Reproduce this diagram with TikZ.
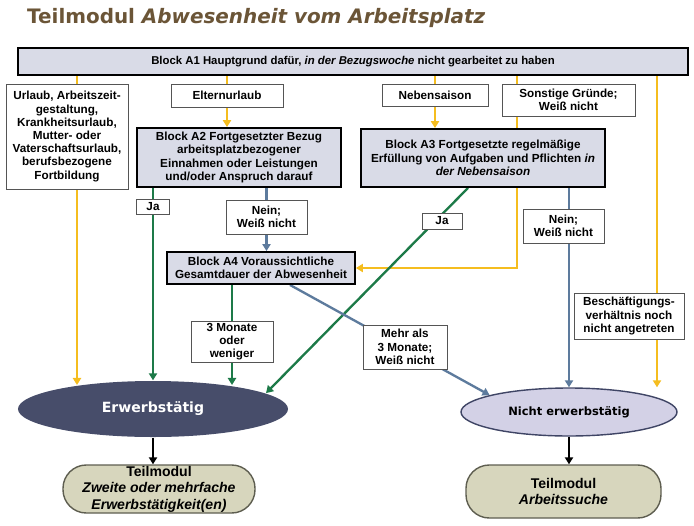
\documentclass[tikz,border=0pt]{standalone}
\usepackage{fontspec}
\setmainfont{Liberation Sans}
\newfontfamily\titlefont{DejaVu Sans}
\usetikzlibrary{positioning, arrows.meta, shapes.geometric, backgrounds, calc}

\definecolor{titlebrown}{HTML}{6B5537}
\definecolor{blockfill}{HTML}{D9DBE7}
\definecolor{yel}{HTML}{F5BD1F}
\definecolor{grn}{HTML}{1D7A48}
\definecolor{blu}{HTML}{5D7B9D}
\definecolor{darkoval}{HTML}{474D6A}
\definecolor{lightoval}{HTML}{D3D1E6}
\definecolor{ovalline}{HTML}{3F4565}
\definecolor{termfill}{HTML}{D7D6BD}
\definecolor{termline}{HTML}{5E5E50}
\definecolor{boxline}{HTML}{555555}

\tikzset{
  block/.style={draw=black, line width=1.6pt, fill=blockfill, align=center, inner sep=0pt,
    font=\bfseries\fontsize{10}{11.5}\selectfont},
  answer/.style={draw=boxline, line width=0.8pt, fill=white, align=center, inner sep=0pt,
    font=\bfseries\fontsize{10}{11.3}\selectfont},
  oval/.style={ellipse, inner sep=0pt, line width=1.2pt},
  terminal/.style={draw=termline, line width=1.2pt, fill=termfill, rounded corners=0.7cm,
    align=center, inner sep=0pt, font=\bfseries\fontsize{12}{14.2}\selectfont},
  arr/.style={-{Triangle[width=7pt,length=6pt]}},
  yline/.style={draw=yel, line width=2pt},
  gline/.style={draw=grn, line width=2pt},
  bline/.style={draw=blu, line width=2pt},
  kline/.style={draw=black, line width=2.2pt}
}

\begin{document}
\begin{tikzpicture}[x=0.03cm, y=-0.03cm]
  \useasboundingbox (0,0) rectangle (694,525);

  % title
  \node[anchor=base west, text=titlebrown, inner sep=0pt,
    font=\titlefont\bfseries\fontsize{17}{20}\selectfont] (title) at (27,23)
    {Teilmodul \textit{Abwesenheit vom Arbeitsplatz}};

  % top block and first answers
  \node[block, minimum width=20.1cm, minimum height=0.81cm, font=\bfseries\fontsize{9.7}{11}\selectfont] (a1) at (353,61.5)
    {Block A1 Hauptgrund dafür, \textit{in der Bezugswoche} nicht gearbeitet zu haben};
  \node[answer, minimum width=3.66cm, minimum height=3.15cm] (urlaub) at (67,136.5)
    {Urlaub, Arbeitszeit-\\gestaltung,\\Krankheitsurlaub,\\Mutter- oder\\Vaterschaftsurlaub,\\berufsbezogene\\Fortbildung};
  \node[answer, minimum width=3.36cm, minimum height=0.69cm] (eltern) at (227,95.5) {Elternurlaub};
  \node[answer, minimum width=3.18cm, minimum height=0.66cm] (neben) at (435,95) {Nebensaison};
  \node[answer, minimum width=3.99cm, minimum height=0.96cm] (sonst) at (568.5,100) {Sonstige Gründe;\\Weiß nicht};

  % blocks A2 and A3
  \node[block, minimum width=6.12cm, minimum height=1.77cm] (a2) at (239,157.5)
    {Block A2 Fortgesetzter Bezug\\arbeitsplatzbezogener\\Einnahmen oder Leistungen\\und/oder Anspruch darauf};
  \node[block, minimum width=7.32cm, minimum height=1.74cm] (a3) at (483,158)
    {Block A3 Fortgesetzte regelmäßige\\Erfüllung von Aufgaben und Pflichten \textit{in}\\\textit{der Nebensaison}};

  % answers below A2 and A3
  \node[answer, minimum width=1.0cm, minimum height=0.45cm] (ja1) at (153,207) {Ja};
  \node[answer, minimum width=2.43cm, minimum height=1.02cm] (nein1) at (266.5,217) {Nein;\\Weiß nicht};
  \node[answer, minimum width=1.2cm, minimum height=0.48cm] (ja2) at (442,221) {Ja};
  \node[answer, minimum width=2.43cm, minimum height=1.02cm] (nein2) at (563.5,226) {Nein;\\Weiß nicht};

  % block A4
  \node[block, minimum width=5.64cm, minimum height=0.96cm] (a4) at (261,268)
    {Block A4 Voraussichtliche\\Gesamtdauer der Abwesenheit};

  \node[answer, minimum width=3.3cm, minimum height=1.38cm] (besch) at (629,316)
    {Beschäftigungs-\\verhältnis noch\\nicht angetreten};
  \node[answer, minimum width=2.46cm, minimum height=1.23cm] (drei) at (232,341.5)
    {3 Monate\\oder\\weniger};
  \node[answer, minimum width=2.52cm, minimum height=1.32cm] (mehr) at (405,347)
    {Mehr als\\3 Monate;\\Weiß nicht};

  % results
  \node[oval, fill=darkoval, minimum width=8.1cm, minimum height=1.68cm, text=white,
    font=\titlefont\bfseries\fontsize{12}{14}\selectfont] (erw) at (153,409) {Erwerbstätig};
  \node[oval, draw=ovalline, fill=lightoval, minimum width=6.48cm, minimum height=1.44cm,
    font=\titlefont\bfseries\fontsize{9.8}{12}\selectfont] (nerw) at (569,412) {Nicht erwerbstätig};

  \node[terminal, minimum width=5.76cm, minimum height=1.44cm] (tm1) at (159,489)
    {Teilmodul\\\textit{Zweite oder mehrfache}\\\textit{Erwerbstätigkeit(en)}};
  \node[terminal, minimum width=5.85cm, minimum height=1.59cm] (tm2) at (563.5,491.5)
    {Teilmodul\\\textit{Arbeitssuche}};

  \coordinate (yl) at (77,75);
  \coordinate (ys) at (517,75);
  \coordinate (yr) at (657,75);

  \begin{pgfonlayer}{background}
    % yellow
    \draw[yline, arr, shorten >=-4pt] (yl) -- (yl |- erw.north);
    \draw[yline] (a1.south -| eltern.north) -- (eltern.north);
    \draw[yline, arr] (eltern.south) -- (eltern.south |- a2.north);
    \draw[yline] (a1.south -| neben.north) -- (neben.north);
    \draw[yline, arr] (neben.south) -- (neben.south |- a3.north);
    \draw[yline] (ys) -- (ys |- sonst.north);
    \draw[yline, arr] (ys |- sonst.south) |- (a4.east);
    \draw[yline, arr] (yr) -- (yr |- nerw.north);
    % green
    \draw[gline, arr] (ja1 |- a2.south) -- (ja1 |- erw.north);
    \draw[gline, arr, shorten >=-4pt] (drei |- a4.south) -- (drei |- erw.north);
    \draw[gline, arr] ($(a3.south)+(-15,0)$) -- (erw.8);
    % blue
    \draw[bline, arr] (nein1 |- a2.south) -- (nein1 |- a4.north);
    \draw[bline, arr] (a3.south -| nerw.north) -- (nerw.north);
    \draw[bline, arr] ($(a4.south)+(29,0)$) -- (nerw.168);
    % black
    \draw[kline, arr] (erw.south) -- (erw.south |- tm1.north);
    \draw[kline, arr] (nerw.south) -- (nerw.south |- tm2.north);
  \end{pgfonlayer}
\end{tikzpicture}
\end{document}
